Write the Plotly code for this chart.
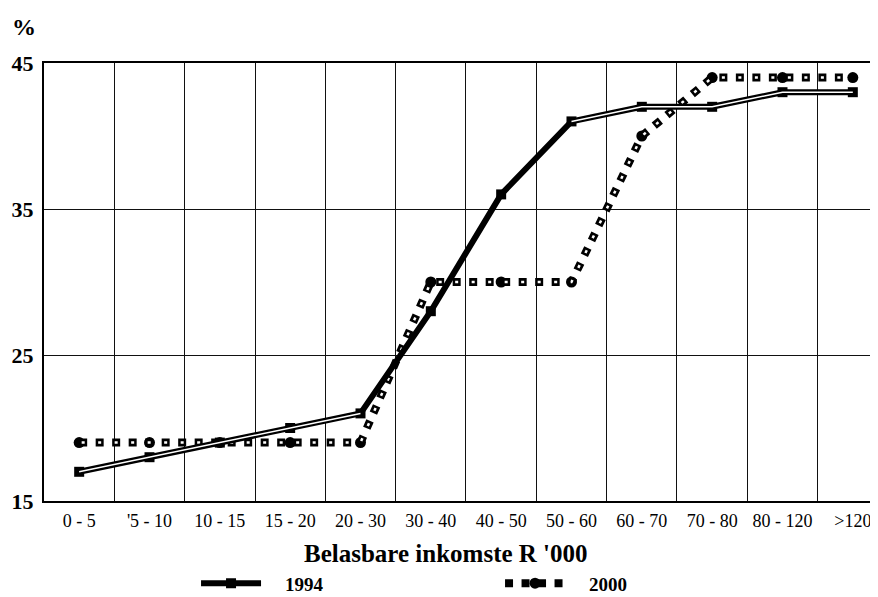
import plotly.graph_objects as go

categories = ["0 - 5", "'5 - 10", "10 - 15", "15 - 20", "20 - 30", "30 - 40",
              "40 - 50", "50 - 60", "60 - 70", "70 - 80", "80 - 120", ">120"]
rates_1994 = [17, 18, 19, 20, 21, 28, 36, 41, 42, 42, 43, 43]
rates_2000 = [19, 19, 19, 19, 19, 30, 30, 30, 40, 44, 44, 44]
y_ticks = [15, 25, 35, 45]

# segments of the 1994 line drawn with a white core (steep part is solid black)
solid_idx = {5, 6}
core_1994 = [None if i in solid_idx else v for i, v in enumerate(rates_1994)]

SERIF = "Liberation Serif"
PAD = "\u00a0" * 4

fig = go.Figure()

# 2000: dotted line of square dots with circle markers
fig.add_trace(go.Scatter(
    x=categories, y=rates_2000, name=PAD + "2000", mode="lines+markers",
    line=dict(color="black", width=8, dash="8px,8.5px"),
    marker=dict(symbol="circle", size=11, color="black"),
))
fig.add_trace(go.Scatter(
    x=categories, y=rates_2000, mode="lines", showlegend=False, hoverinfo="skip",
    line=dict(color="white", width=2.5, dash="0px,2.5px,3px,11px"),
))

# 1994: thick black line
fig.add_trace(go.Scatter(
    x=categories, y=rates_1994, name=PAD + "1994", mode="lines+markers",
    line=dict(color="black", width=6),
    marker=dict(symbol="square", size=10, color="black"),
))
fig.add_trace(go.Scatter(
    x=categories, y=core_1994, mode="lines", showlegend=False, hoverinfo="skip",
    connectgaps=False,
    line=dict(color="white", width=1.5),
))

# the page body adds an 8px margin, so the figure is 8px smaller and margins shifted
fig.update_layout(
    width=870, height=589,
    margin=dict(l=36, r=0, t=55, b=96, autoexpand=False),
    paper_bgcolor="white", plot_bgcolor="white",
    font=dict(family=SERIF, color="black"),
    showlegend=True,
    legend=dict(
        orientation="h", x=0.1823, xanchor="left", y=-0.188, yanchor="middle",
        font=dict(family=SERIF, size=19, color="black", weight="bold"),
        itemwidth=60, entrywidth=229, entrywidthmode="pixels",
        traceorder="reversed", bgcolor="rgba(0,0,0,0)",
    ),
    xaxis=dict(
        type="category", categoryorder="array", categoryarray=categories,
        range=[-0.5, 11.358], tickson="boundaries", automargin=False,
        showgrid=True, gridcolor="#111", gridwidth=1.4,
        showline=True, linecolor="black", linewidth=2, mirror=True,
        ticks="", ticklabelstandoff=2,
        tickfont=dict(family=SERIF, size=18, color="black"),
        zeroline=False, fixedrange=True,
    ),
    yaxis=dict(
        range=[15, 45], tickvals=y_ticks, ticktext=[str(v) for v in y_ticks],
        showgrid=True, gridcolor="#111", gridwidth=1.4, automargin=False,
        showline=True, linecolor="black", linewidth=2,
        ticks="", ticklabelstandoff=4,
        tickfont=dict(family=SERIF, size=22, color="black", weight="bold"),
        zeroline=False, fixedrange=True,
    ),
    annotations=[
        dict(text="<b>Belasbare inkomste R '000</b>", xref="paper", yref="paper",
             x=0.482, y=-0.119, xanchor="center", yanchor="middle", showarrow=False,
             font=dict(family=SERIF, size=25, color="black")),
        dict(text="<b>%</b>", xref="paper", yref="paper",
             x=-0.024, y=1.082, xanchor="center", yanchor="middle", showarrow=False,
             font=dict(family=SERIF, size=24, color="black")),
    ],
)

fig.write_html("out.html")
